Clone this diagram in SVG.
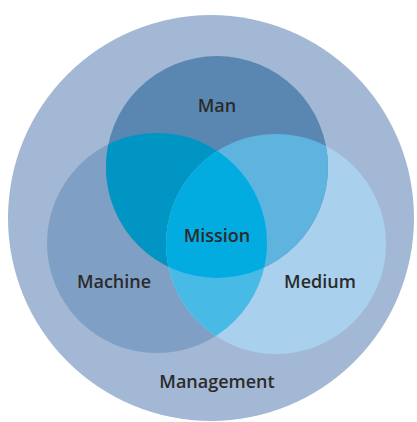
<svg xmlns="http://www.w3.org/2000/svg" width="417" height="422" viewBox="0 0 417 422">
<style>
.lbl{font-family:"Open Sans","Liberation Sans",sans-serif;font-size:18px;font-weight:600;fill:#2b2b2b;text-anchor:middle}
</style>
<defs>
<clipPath id="cMan"><circle cx="217" cy="167" r="111"/></clipPath>
<clipPath id="cMachine"><circle cx="157" cy="243" r="110"/></clipPath>
<clipPath id="cMedium"><circle cx="276" cy="244" r="110"/></clipPath>
</defs>
<rect width="417" height="422" fill="#ffffff"/>
<g id="management">
<circle cx="211" cy="218" r="203" fill="#a2b8d4"/>
<text class="lbl" x="217" y="388">Management</text>
</g>
<g id="machine">
<circle cx="157" cy="243" r="110" fill="#7f9fc5"/>
</g>
<g id="medium">
<circle cx="276" cy="244" r="110" fill="#a9d1ee"/>
</g>
<g id="man">
<circle cx="217" cy="167" r="111" fill="#5a87b2"/>
</g>
<g id="overlaps">
<circle cx="217" cy="167" r="111" fill="#0095c3" clip-path="url(#cMachine)"/>
<circle cx="217" cy="167" r="111" fill="#5eb3df" clip-path="url(#cMedium)"/>
<circle cx="157" cy="243" r="110" fill="#48bae6" clip-path="url(#cMedium)"/>
<g clip-path="url(#cMachine)"><circle cx="217" cy="167" r="111" fill="#03ace0" clip-path="url(#cMedium)"/></g>
</g>
<g id="labels">
<text class="lbl" x="217" y="112">Man</text>
<text class="lbl" x="217" y="242">Mission</text>
<text class="lbl" x="114" y="288">Machine</text>
<text class="lbl" x="320" y="288">Medium</text>
</g>
</svg>
